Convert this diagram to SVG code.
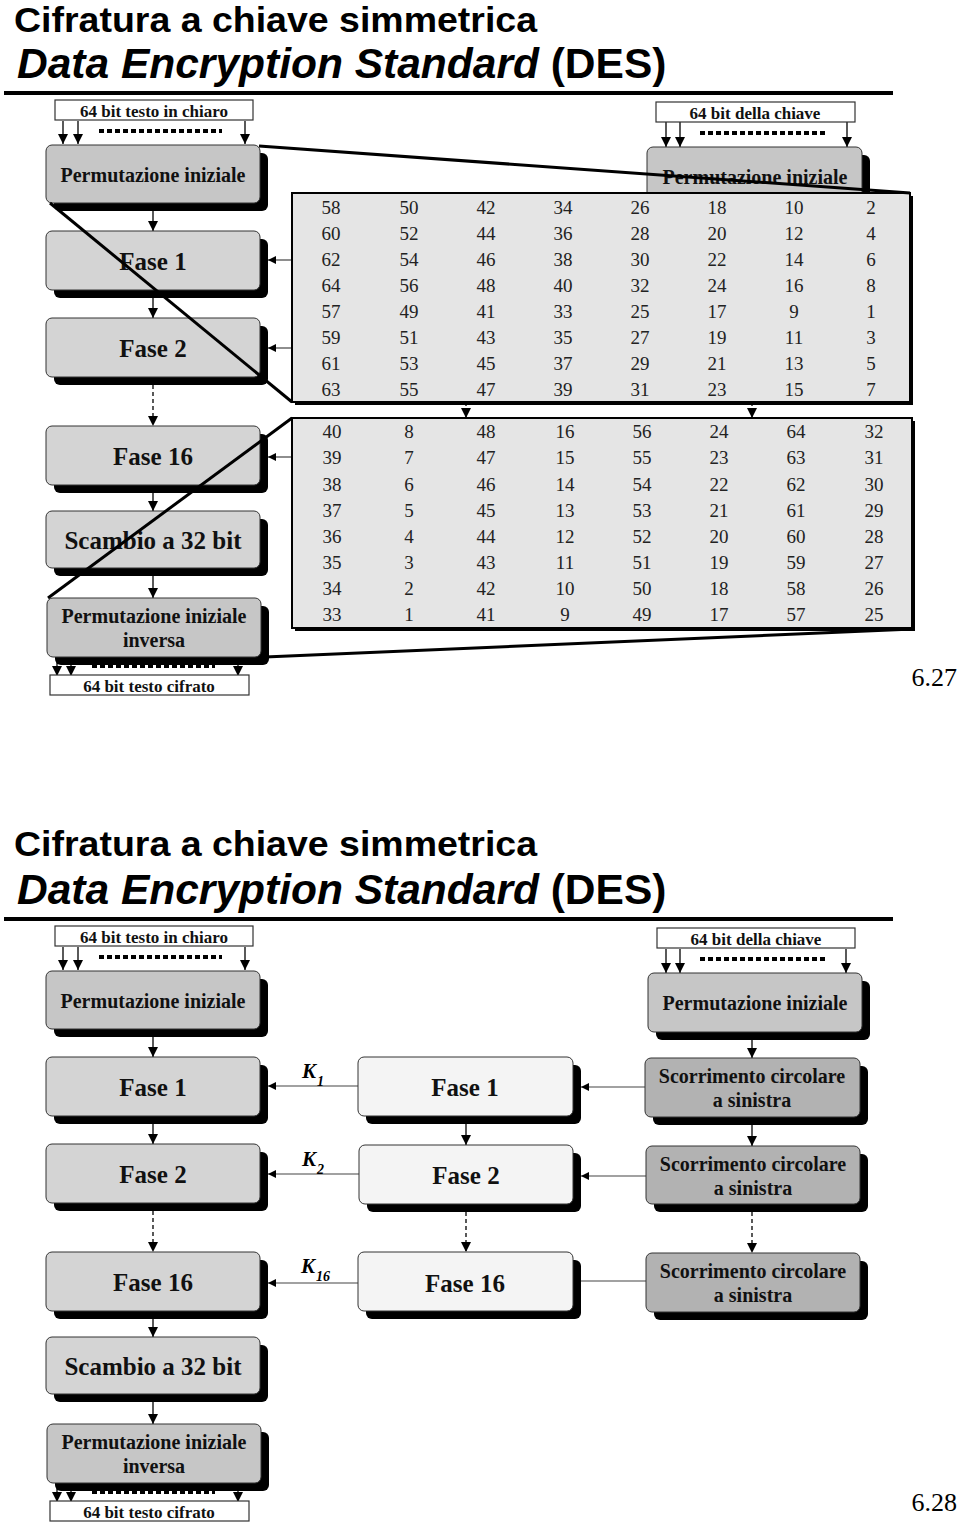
<svg xmlns="http://www.w3.org/2000/svg" width="960" height="1523" viewBox="0 0 960 1523">
<style>
.t1{font-family:"Liberation Sans",Arial,sans-serif;font-weight:bold;font-size:35px;fill:#000}
.t2{font-family:"Liberation Sans",Arial,sans-serif;font-weight:bold;font-size:42.5px;fill:#000}
.lb{font-family:"Liberation Serif","Times New Roman",serif;font-weight:bold;font-size:20px;text-anchor:middle;fill:#111}
.bg{font-size:25px}
.io{font-size:17px}
.num{font-family:"Liberation Serif","Times New Roman",serif;font-size:19px;text-anchor:middle;fill:#222}
.pg{font-family:"Liberation Serif","Times New Roman",serif;font-size:26px;text-anchor:end;fill:#000}
.kk{font-family:"Liberation Serif","Times New Roman",serif;font-weight:bold;font-style:italic;font-size:21px;fill:#000}
.ks{font-family:"Liberation Serif","Times New Roman",serif;font-weight:bold;font-style:italic;font-size:14px;fill:#000}
.sh{fill:#000}
.b1{fill:#c6c6c6;stroke:#333;stroke-width:1}
.b2{fill:#d4d4d4;stroke:#333;stroke-width:1}
.b3{fill:#b2b2b2;stroke:#333;stroke-width:1}
.b4{fill:#f4f4f4;stroke:#333;stroke-width:1}
.io-box{fill:#fff;stroke:#333;stroke-width:1.2}
.ar{stroke:#000;stroke-width:1.3;fill:none;marker-end:url(#ah)}
.ad{stroke:#000;stroke-width:1.3;fill:none;stroke-dasharray:4 3;marker-end:url(#ah)}
.ah2{stroke:#444;stroke-width:1.2;fill:none;marker-end:url(#as)}
.hl{stroke:#444;stroke-width:1.2;fill:none}
.dot{stroke:#000;stroke-width:4;stroke-dasharray:5 3;fill:none}
.zl{stroke:#000;stroke-width:3;fill:none}
.rule{stroke:#000;stroke-width:4}
.tb{fill:#e5e5e5;stroke:#000;stroke-width:2}
</style>
<defs>
<marker id="ah" viewBox="0 0 10 10" refX="10" refY="5" markerWidth="10" markerHeight="10" markerUnits="userSpaceOnUse" orient="auto"><path d="M0,0L10,5L0,10z" fill="#000"/></marker>
<marker id="as" viewBox="0 0 10 10" refX="10" refY="5" markerWidth="8" markerHeight="8" markerUnits="userSpaceOnUse" orient="auto"><path d="M0,0L10,5L0,10z" fill="#000"/></marker>
</defs>
<rect width="960" height="1523" fill="#fff"/>

<!-- ========== SLIDE 1 ========== -->
<g id="s1-title">
<text class="t1" x="14" y="32" textLength="523" lengthAdjust="spacingAndGlyphs">Cifratura a chiave simmetrica</text>
<text class="t2" x="17" y="78"><tspan font-style="italic">Data Encryption Standard</tspan> (DES)</text>
<line class="rule" x1="4" y1="93" x2="893" y2="93"/>
</g>

<g id="s1-connectors">
<line class="ar" x1="63" y1="121" x2="63" y2="144"/>
<line class="ar" x1="78" y1="121" x2="78" y2="144"/>
<line class="ar" x1="245" y1="121" x2="245" y2="144"/>
<line class="dot" x1="99" y1="131" x2="222" y2="131"/>
<line class="ar" x1="666" y1="122" x2="666" y2="147"/>
<line class="ar" x1="680" y1="122" x2="680" y2="147"/>
<line class="ar" x1="847" y1="122" x2="847" y2="147"/>
<line class="dot" x1="700" y1="133" x2="825" y2="133"/>
<line class="ar" x1="153" y1="211" x2="153" y2="231"/>
<line class="ar" x1="153" y1="298" x2="153" y2="318"/>
<line class="ad" x1="153" y1="385" x2="153" y2="426"/>
<line class="ar" x1="153" y1="493" x2="153" y2="511"/>
<line class="ar" x1="153" y1="576" x2="153" y2="598"/>
<line class="ar" x1="57" y1="657" x2="57" y2="676"/>
<line class="ar" x1="71" y1="657" x2="71" y2="676"/>
<line class="ar" x1="238" y1="657" x2="238" y2="676"/>
<line class="ah2" x1="292" y1="260" x2="268" y2="260"/>
<line class="ah2" x1="292" y1="348" x2="268" y2="348"/>
<line class="ah2" x1="292" y1="457" x2="268" y2="457"/>
<line class="ad" x1="466" y1="402" x2="466" y2="418"/>
<line class="ad" x1="752" y1="402" x2="752" y2="418"/>
</g>

<g id="s1-in">
<rect class="io-box" x="55" y="100" width="198" height="20"/>
<text class="lb io" x="154" y="117">64 bit testo in chiaro</text>
</g>
<g id="s1-key">
<rect class="io-box" x="656" y="102" width="199" height="20"/>
<text class="lb io" x="755" y="119">64 bit della chiave</text>
</g>
<g id="s1-perm">
<rect class="sh" x="54" y="153" width="214" height="58" rx="6"/>
<rect class="b1" x="46" y="145" width="214" height="58" rx="6"/>
<text class="lb" x="153" y="182">Permutazione iniziale</text>
</g>
<g id="s1-fase1">
<rect class="sh" x="54" y="239" width="214" height="59" rx="6"/>
<rect class="b2" x="46" y="231" width="214" height="59" rx="6"/>
<text class="lb bg" x="153" y="270">Fase 1</text>
</g>
<g id="s1-fase2">
<rect class="sh" x="54" y="326" width="214" height="59" rx="6"/>
<rect class="b2" x="46" y="318" width="214" height="59" rx="6"/>
<text class="lb bg" x="153" y="357">Fase 2</text>
</g>
<g id="s1-fase16">
<rect class="sh" x="54" y="434" width="214" height="59" rx="6"/>
<rect class="b2" x="46" y="426" width="214" height="59" rx="6"/>
<text class="lb bg" x="153" y="465">Fase 16</text>
</g>
<g id="s1-scambio">
<rect class="sh" x="54" y="519" width="214" height="57" rx="6"/>
<rect class="b2" x="46" y="511" width="214" height="57" rx="6"/>
<text class="lb bg" x="153" y="549">Scambio a 32 bit</text>
</g>
<g id="s1-inv">
<rect class="sh" x="55" y="606" width="214" height="59" rx="6"/>
<rect class="b1" x="47" y="598" width="214" height="59" rx="6"/>
<text class="lb" x="154" y="623">Permutazione iniziale</text>
<text class="lb" x="154" y="647">inversa</text>
</g>
<line class="dot" x1="92" y1="666" x2="215" y2="666"/>
<g id="s1-out">
<rect class="io-box" x="50" y="675" width="199" height="20"/>
<text class="lb io" x="149" y="692">64 bit testo cifrato</text>
</g>
<g id="s1-kperm">
<rect class="sh" x="655" y="155" width="215" height="58" rx="6"/>
<rect class="b1" x="647" y="147" width="215" height="58" rx="6"/>
<text class="lb" x="755" y="184">Permutazione iniziale</text>
</g>

<g id="s1-table1">
<rect x="295" y="196" width="618" height="209" fill="#000"/>
<rect class="tb" x="292" y="193" width="618" height="209"/>
<g class="num">
<text x="331" y="214">58</text><text x="409" y="214">50</text><text x="486" y="214">42</text><text x="563" y="214">34</text><text x="640" y="214">26</text><text x="717" y="214">18</text><text x="794" y="214">10</text><text x="871" y="214">2</text>
<text x="331" y="240">60</text><text x="409" y="240">52</text><text x="486" y="240">44</text><text x="563" y="240">36</text><text x="640" y="240">28</text><text x="717" y="240">20</text><text x="794" y="240">12</text><text x="871" y="240">4</text>
<text x="331" y="266">62</text><text x="409" y="266">54</text><text x="486" y="266">46</text><text x="563" y="266">38</text><text x="640" y="266">30</text><text x="717" y="266">22</text><text x="794" y="266">14</text><text x="871" y="266">6</text>
<text x="331" y="292">64</text><text x="409" y="292">56</text><text x="486" y="292">48</text><text x="563" y="292">40</text><text x="640" y="292">32</text><text x="717" y="292">24</text><text x="794" y="292">16</text><text x="871" y="292">8</text>
<text x="331" y="318">57</text><text x="409" y="318">49</text><text x="486" y="318">41</text><text x="563" y="318">33</text><text x="640" y="318">25</text><text x="717" y="318">17</text><text x="794" y="318">9</text><text x="871" y="318">1</text>
<text x="331" y="344">59</text><text x="409" y="344">51</text><text x="486" y="344">43</text><text x="563" y="344">35</text><text x="640" y="344">27</text><text x="717" y="344">19</text><text x="794" y="344">11</text><text x="871" y="344">3</text>
<text x="331" y="370">61</text><text x="409" y="370">53</text><text x="486" y="370">45</text><text x="563" y="370">37</text><text x="640" y="370">29</text><text x="717" y="370">21</text><text x="794" y="370">13</text><text x="871" y="370">5</text>
<text x="331" y="396">63</text><text x="409" y="396">55</text><text x="486" y="396">47</text><text x="563" y="396">39</text><text x="640" y="396">31</text><text x="717" y="396">23</text><text x="794" y="396">15</text><text x="871" y="396">7</text>
</g>
</g>

<g id="s1-table2">
<rect x="295" y="421" width="620" height="210" fill="#000"/>
<rect class="tb" x="292" y="418" width="620" height="210"/>
<g class="num">
<text x="332" y="438">40</text><text x="409" y="438">8</text><text x="486" y="438">48</text><text x="565" y="438">16</text><text x="642" y="438">56</text><text x="719" y="438">24</text><text x="796" y="438">64</text><text x="874" y="438">32</text>
<text x="332" y="464">39</text><text x="409" y="464">7</text><text x="486" y="464">47</text><text x="565" y="464">15</text><text x="642" y="464">55</text><text x="719" y="464">23</text><text x="796" y="464">63</text><text x="874" y="464">31</text>
<text x="332" y="491">38</text><text x="409" y="491">6</text><text x="486" y="491">46</text><text x="565" y="491">14</text><text x="642" y="491">54</text><text x="719" y="491">22</text><text x="796" y="491">62</text><text x="874" y="491">30</text>
<text x="332" y="517">37</text><text x="409" y="517">5</text><text x="486" y="517">45</text><text x="565" y="517">13</text><text x="642" y="517">53</text><text x="719" y="517">21</text><text x="796" y="517">61</text><text x="874" y="517">29</text>
<text x="332" y="543">36</text><text x="409" y="543">4</text><text x="486" y="543">44</text><text x="565" y="543">12</text><text x="642" y="543">52</text><text x="719" y="543">20</text><text x="796" y="543">60</text><text x="874" y="543">28</text>
<text x="332" y="569">35</text><text x="409" y="569">3</text><text x="486" y="569">43</text><text x="565" y="569">11</text><text x="642" y="569">51</text><text x="719" y="569">19</text><text x="796" y="569">59</text><text x="874" y="569">27</text>
<text x="332" y="595">34</text><text x="409" y="595">2</text><text x="486" y="595">42</text><text x="565" y="595">10</text><text x="642" y="595">50</text><text x="719" y="595">18</text><text x="796" y="595">58</text><text x="874" y="595">26</text>
<text x="332" y="621">33</text><text x="409" y="621">1</text><text x="486" y="621">41</text><text x="565" y="621">9</text><text x="642" y="621">49</text><text x="719" y="621">17</text><text x="796" y="621">57</text><text x="874" y="621">25</text>
</g>
</g>

<g id="s1-zoomlines">
<line class="zl" x1="259" y1="146" x2="910" y2="193"/>
<line class="zl" x1="50" y1="203" x2="292" y2="402"/>
<line class="zl" x1="292" y1="418" x2="48" y2="598"/>
<line class="zl" x1="913" y1="629" x2="265" y2="657"/>
</g>
<text class="pg" x="957" y="686">6.27</text>

<!-- ========== SLIDE 2 ========== -->
<g id="s2-title">
<text class="t1" x="14" y="856" textLength="523" lengthAdjust="spacingAndGlyphs">Cifratura a chiave simmetrica</text>
<text class="t2" x="17" y="904"><tspan font-style="italic">Data Encryption Standard</tspan> (DES)</text>
<line class="rule" x1="4" y1="919" x2="893" y2="919"/>
</g>

<g id="s2-connectors">
<line class="ar" x1="63" y1="947" x2="63" y2="970"/>
<line class="ar" x1="78" y1="947" x2="78" y2="970"/>
<line class="ar" x1="245" y1="947" x2="245" y2="970"/>
<line class="dot" x1="99" y1="957" x2="222" y2="957"/>
<line class="ar" x1="666" y1="949" x2="666" y2="973"/>
<line class="ar" x1="680" y1="949" x2="680" y2="973"/>
<line class="ar" x1="846" y1="949" x2="846" y2="973"/>
<line class="dot" x1="700" y1="959" x2="825" y2="959"/>
<line class="ar" x1="153" y1="1037" x2="153" y2="1057"/>
<line class="ar" x1="153" y1="1124" x2="153" y2="1144"/>
<line class="ad" x1="153" y1="1211" x2="153" y2="1252"/>
<line class="ar" x1="153" y1="1319" x2="153" y2="1337"/>
<line class="ar" x1="153" y1="1402" x2="153" y2="1424"/>
<line class="ar" x1="57" y1="1483" x2="57" y2="1502"/>
<line class="ar" x1="71" y1="1483" x2="71" y2="1502"/>
<line class="ar" x1="238" y1="1483" x2="238" y2="1502"/>
<line class="ar" x1="466" y1="1124" x2="466" y2="1145"/>
<line class="ad" x1="466" y1="1212" x2="466" y2="1252"/>
<line class="ar" x1="752" y1="1040" x2="752" y2="1058"/>
<line class="ar" x1="752" y1="1125" x2="752" y2="1146"/>
<line class="ad" x1="752" y1="1212" x2="752" y2="1253"/>
<line class="ah2" x1="358" y1="1086" x2="268" y2="1086"/>
<line class="ah2" x1="359" y1="1174" x2="268" y2="1174"/>
<line class="ah2" x1="358" y1="1283" x2="268" y2="1283"/>
<line class="ah2" x1="645" y1="1087" x2="581" y2="1087"/>
<line class="ah2" x1="646" y1="1176" x2="581" y2="1176"/>
<line class="hl" x1="646" y1="1281" x2="581" y2="1281"/>
</g>

<g id="s2-klabels">
<text class="kk" x="302" y="1078">K</text><text class="ks" x="317" y="1086">1</text>
<text class="kk" x="302" y="1166">K</text><text class="ks" x="317" y="1174">2</text>
<text class="kk" x="301" y="1273">K</text><text class="ks" x="316" y="1281">16</text>
</g>

<g id="s2-in">
<rect class="io-box" x="55" y="926" width="198" height="20"/>
<text class="lb io" x="154" y="943">64 bit testo in chiaro</text>
</g>
<g id="s2-key">
<rect class="io-box" x="657" y="928" width="198" height="20"/>
<text class="lb io" x="756" y="945">64 bit della chiave</text>
</g>
<g id="s2-perm">
<rect class="sh" x="54" y="979" width="214" height="58" rx="6"/>
<rect class="b1" x="46" y="971" width="214" height="58" rx="6"/>
<text class="lb" x="153" y="1008">Permutazione iniziale</text>
</g>
<g id="s2-fase1">
<rect class="sh" x="54" y="1065" width="214" height="59" rx="6"/>
<rect class="b2" x="46" y="1057" width="214" height="59" rx="6"/>
<text class="lb bg" x="153" y="1096">Fase 1</text>
</g>
<g id="s2-fase2">
<rect class="sh" x="54" y="1152" width="214" height="59" rx="6"/>
<rect class="b2" x="46" y="1144" width="214" height="59" rx="6"/>
<text class="lb bg" x="153" y="1183">Fase 2</text>
</g>
<g id="s2-fase16">
<rect class="sh" x="54" y="1260" width="214" height="59" rx="6"/>
<rect class="b2" x="46" y="1252" width="214" height="59" rx="6"/>
<text class="lb bg" x="153" y="1291">Fase 16</text>
</g>
<g id="s2-scambio">
<rect class="sh" x="54" y="1345" width="214" height="57" rx="6"/>
<rect class="b2" x="46" y="1337" width="214" height="57" rx="6"/>
<text class="lb bg" x="153" y="1375">Scambio a 32 bit</text>
</g>
<g id="s2-inv">
<rect class="sh" x="55" y="1432" width="214" height="59" rx="6"/>
<rect class="b1" x="47" y="1424" width="214" height="59" rx="6"/>
<text class="lb" x="154" y="1449">Permutazione iniziale</text>
<text class="lb" x="154" y="1473">inversa</text>
</g>
<line class="dot" x1="92" y1="1492" x2="215" y2="1492"/>
<g id="s2-out">
<rect class="io-box" x="50" y="1501" width="199" height="20"/>
<text class="lb io" x="149" y="1518">64 bit testo cifrato</text>
</g>

<g id="s2-mfase1">
<rect class="sh" x="366" y="1065" width="215" height="59" rx="6"/>
<rect class="b4" x="358" y="1057" width="215" height="59" rx="6"/>
<text class="lb bg" x="465" y="1096">Fase 1</text>
</g>
<g id="s2-mfase2">
<rect class="sh" x="367" y="1153" width="214" height="59" rx="6"/>
<rect class="b4" x="359" y="1145" width="214" height="59" rx="6"/>
<text class="lb bg" x="466" y="1184">Fase 2</text>
</g>
<g id="s2-mfase16">
<rect class="sh" x="366" y="1260" width="215" height="59" rx="6"/>
<rect class="b4" x="358" y="1252" width="215" height="59" rx="6"/>
<text class="lb bg" x="465" y="1292">Fase 16</text>
</g>

<g id="s2-kperm">
<rect class="sh" x="656" y="981" width="214" height="59" rx="6"/>
<rect class="b1" x="648" y="973" width="214" height="59" rx="6"/>
<text class="lb" x="755" y="1010">Permutazione iniziale</text>
</g>
<g id="s2-shift1">
<rect class="sh" x="653" y="1066" width="215" height="59" rx="6"/>
<rect class="b3" x="645" y="1058" width="215" height="59" rx="6"/>
<text class="lb" x="752" y="1083">Scorrimento circolare</text>
<text class="lb" x="752" y="1107">a sinistra</text>
</g>
<g id="s2-shift2">
<rect class="sh" x="654" y="1154" width="214" height="58" rx="6"/>
<rect class="b3" x="646" y="1146" width="214" height="58" rx="6"/>
<text class="lb" x="753" y="1171">Scorrimento circolare</text>
<text class="lb" x="753" y="1195">a sinistra</text>
</g>
<g id="s2-shift3">
<rect class="sh" x="654" y="1261" width="214" height="59" rx="6"/>
<rect class="b3" x="646" y="1253" width="214" height="59" rx="6"/>
<text class="lb" x="753" y="1278">Scorrimento circolare</text>
<text class="lb" x="753" y="1302">a sinistra</text>
</g>

<text class="pg" x="957" y="1511">6.28</text>
</svg>
